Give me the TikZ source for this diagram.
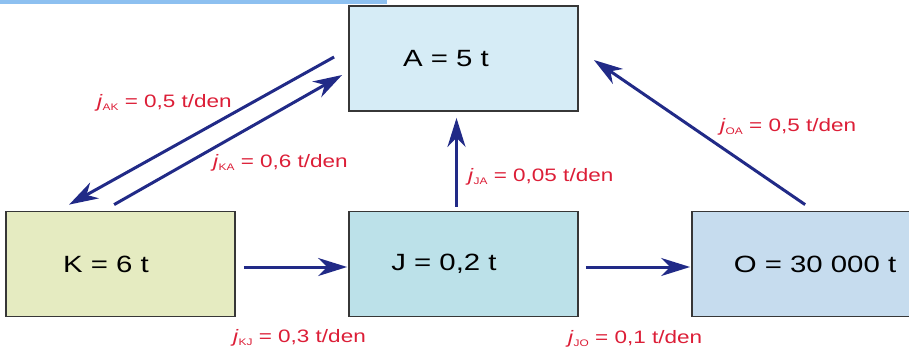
\documentclass[tikz,border=0pt]{standalone}
\usepackage{fontspec}
\setmainfont[FakeStretch=1.25]{Liberation Sans}
\usetikzlibrary{arrows.meta,calc}
\definecolor{arrowcol}{RGB}{33,42,135}
\definecolor{labcol}{RGB}{220,30,55}
\definecolor{edgecol}{RGB}{55,55,55}
\definecolor{fillA}{RGB}{214,236,246}
\definecolor{fillK}{RGB}{229,235,193}
\definecolor{fillJ}{RGB}{188,225,233}
\definecolor{fillO}{RGB}{198,220,238}
\definecolor{barcol}{RGB}{141,192,240}
\newcommand{\jlab}[2]{\textit{j}\raisebox{-3pt}{\fontsize{9.5}{10}\selectfont #1} = #2 t/den}
\tikzset{
  box/.style={draw=edgecol, line width=1.8pt, minimum width=229pt, minimum height=105pt, inner sep=0pt, font=\fontsize{23.5}{26}\selectfont},
  flow/.style={draw=arrowcol, line width=3pt, -{Stealth[length=29pt,width=18pt,inset=9pt]}},
  lab/.style={text=labcol, anchor=base west, inner sep=0pt, font=\fontsize{18}{20}\selectfont}
}
\begin{document}
\begin{tikzpicture}[x=1pt,y=-1pt]
\useasboundingbox (0,0) rectangle (909,351);
\fill[barcol] (0,0) rectangle (387,4);
\node[box, fill=fillA] (A) at (463.5,58.5) {A = 5 t\hspace{35pt}\mbox{}};
\node[box, fill=fillK] (K) at (120.5,264) {K = 6 t\hspace{29pt}\mbox{}};
\node[box, fill=fillJ] (J) at (463.5,264) {J = 0,2 t\hspace{39pt}\mbox{}};
\node[box, fill=fillO] (O) at (806.5,264) {\mbox{}\hspace{17pt}O = 30 000 t};
% connectors
\draw[flow] ($(A.west)+(-14,-1.5)$) -- ($(K.north west)+(64,-6)$);
\draw[flow] ($(K.north west)+(109,-6)$) -- ($(A.west)+(-6,16.5)$);
\draw[flow] ($(K.east)+(8,3)$) -- ($(J.west)+(-1,3)$);
\draw[flow] ($(J.north)+(-7,-4)$) -- ($(A.south)+(-7,6)$);
\draw[flow] ($(J.east)+(7,3)$) -- ($(O.west)+(-1,3)$);
\draw[flow] ($(O.north west)+(114,-6)$) -- ($(A.east)+(15,1.5)$);
% labels
\node[lab] (lAK) at (97,107) {\jlab{AK}{0,5}};
\node[lab] (lKA) at (213,167) {\jlab{KA}{0,6}};
\node[lab] (lJA) at (468,181) {\jlab{JA}{0,05}};
\node[lab] (lOA) at (720,131) {\jlab{OA}{0,5}};
\node[lab] (lKJ) at (233,342) {\jlab{KJ}{0,3}};
\node[lab] (lJO) at (568,343) {\jlab{JO}{0,1}};
\end{tikzpicture}
\end{document}
